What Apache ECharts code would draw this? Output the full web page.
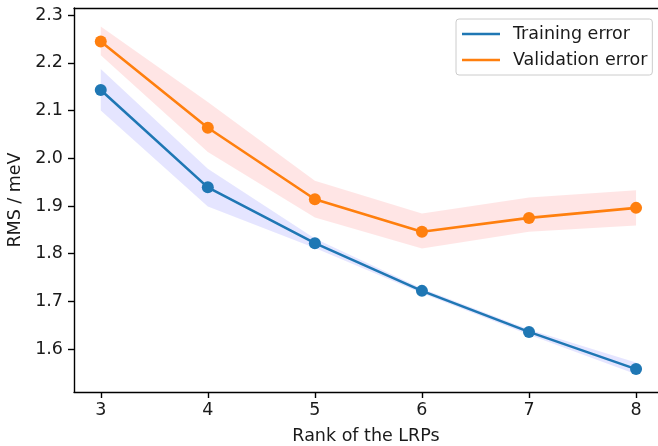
<!DOCTYPE html>
<html>
<head>
<meta charset="utf-8">
<script src="https://cdn.jsdelivr.net/npm/echarts@6/dist/echarts.min.js"></script>
<style>
html,body{margin:0;padding:0;background:#fff;}
#chart{width:658px;height:446px;}
</style>
</head>
<body>
<div id="chart"></div>
<script>
const ranks = [3, 4, 5, 6, 7, 8];
const trainRMS = [2.143, 1.939, 1.822, 1.722, 1.636, 1.558];
const trainLow = [2.100, 1.899, 1.812, 1.717, 1.630, 1.547];
const trainHigh = [2.187, 1.978, 1.832, 1.727, 1.641, 1.572];
const valRMS = [2.245, 2.064, 1.914, 1.846, 1.875, 1.896];
const valLow = [2.216, 2.013, 1.876, 1.811, 1.846, 1.859];
const valHigh = [2.276, 2.118, 1.953, 1.884, 1.918, 1.933];
const xTicks = [3, 4, 5, 6, 7, 8];
const yTicks = [1.6, 1.7, 1.8, 1.9, 2.0, 2.1, 2.2, 2.3];
const seriesNames = ['Training error', 'Validation error'];

const FONT = 'DejaVu Sans';
const FS = 17.5;
const TXT = '#1a1a1a';

function bandSeries(low, high, color) {
  return {
    type: 'custom',
    silent: true,
    z: 1,
    data: [[0]],
    renderItem: function (params, api) {
      const pts = [];
      for (let i = 0; i < ranks.length; i++) pts.push(api.coord([ranks[i], high[i]]));
      for (let i = ranks.length - 1; i >= 0; i--) pts.push(api.coord([ranks[i], low[i]]));
      return { type: 'polygon', shape: { points: pts }, style: { fill: color } };
    }
  };
}

function lineSeries(name, vals, color) {
  return {
    name: name,
    type: 'line',
    z: 3,
    data: ranks.map((r, i) => [r, vals[i]]),
    symbol: 'circle',
    symbolSize: 12,
    showSymbol: true,
    lineStyle: { color: color, width: 2.6 },
    itemStyle: { color: color },
    emphasis: { disabled: true }
  };
}

const chart = echarts.init(document.getElementById('chart'), null, { renderer: 'canvas' });
chart.setOption({
  animation: false,
  backgroundColor: '#ffffff',
  textStyle: { fontFamily: FONT },
  grid: { left: 74, top: 8, right: 0, bottom: 54, containLabel: false, outerBoundsMode: 'none' },
  legend: {
    data: seriesNames,
    orient: 'vertical',
    left: 456,
    top: 19,
    icon: 'rect',
    itemWidth: 38,
    itemHeight: 2.6,
    itemGap: 8,
    padding: [6, 5, 6, 6],
    backgroundColor: 'rgba(255,255,255,0.8)',
    borderColor: '#cccccc',
    borderWidth: 1,
    borderRadius: 3,
    textStyle: { fontFamily: FONT, fontSize: FS, color: TXT, padding: [0, 0, 0, 8] }
  },
  xAxis: [{
    type: 'value',
    min: 2.75,
    max: 8.205,
    name: 'Rank of the LRPs',
    nameLocation: 'middle',
    nameGap: 35,
    nameTextStyle: { fontFamily: FONT, fontSize: FS, color: TXT },
    axisLine: { show: true, lineStyle: { color: '#000', width: 1.4 } },
    axisTick: { show: true, length: 6, lineStyle: { color: '#000', width: 1.4 }, customValues: xTicks },
    axisLabel: { fontFamily: FONT, fontSize: FS, color: TXT, margin: 9, customValues: xTicks },
    splitLine: { show: false }
  }, {
    type: 'value',
    position: 'top',
    min: 2.75,
    max: 8.205,
    axisLine: { show: true, lineStyle: { color: '#000', width: 1.4 } },
    axisTick: { show: false },
    axisLabel: { show: false },
    splitLine: { show: false }
  }],
  yAxis: {
    type: 'value',
    min: 1.51,
    max: 2.315,
    name: 'RMS / meV',
    nameLocation: 'middle',
    nameRotate: 90,
    nameGap: 46,
    nameTextStyle: { fontFamily: FONT, fontSize: FS, color: TXT },
    axisLine: { show: true, lineStyle: { color: '#000', width: 1.4 } },
    axisTick: { show: true, length: 6, lineStyle: { color: '#000', width: 1.4 }, customValues: yTicks },
    axisLabel: { fontFamily: FONT, fontSize: FS, color: TXT, margin: 11, customValues: yTicks,
      formatter: v => v.toFixed(1) },
    splitLine: { show: false }
  },
  series: [
    bandSeries(trainLow, trainHigh, 'rgba(0,0,255,0.1)'),
    bandSeries(valLow, valHigh, 'rgba(255,0,0,0.1)'),
    lineSeries(seriesNames[0], trainRMS, '#1f77b4'),
    lineSeries(seriesNames[1], valRMS, '#ff7f0e')
  ]
});
</script>
</body>
</html>
